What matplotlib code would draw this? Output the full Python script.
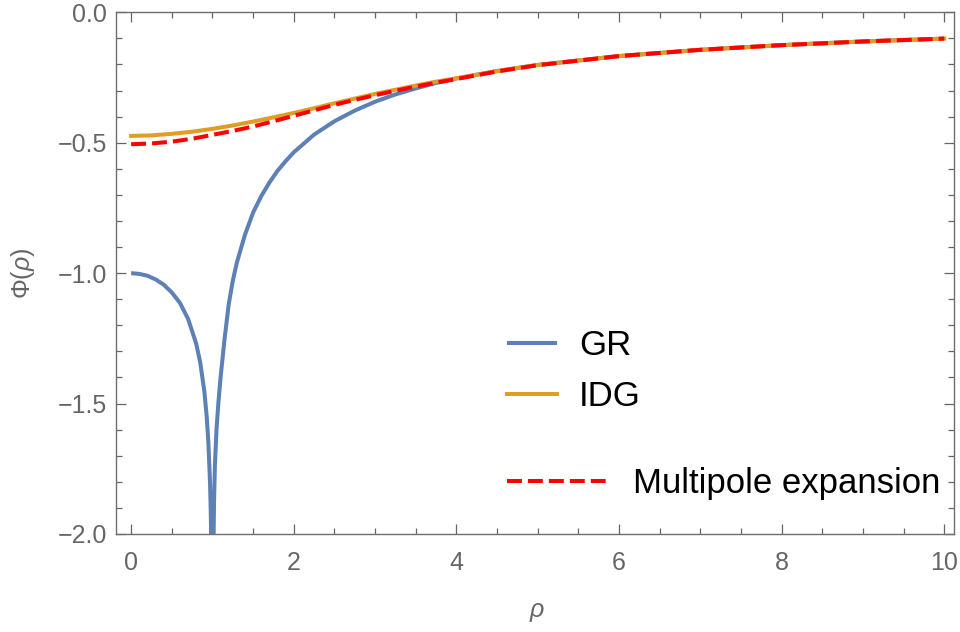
import matplotlib
matplotlib.use('Agg')
import matplotlib.pyplot as plt
from matplotlib.ticker import MultipleLocator, FuncFormatter

plt.rcParams['font.family'] = ['Liberation Sans', 'DejaVu Sans']
plt.rcParams['mathtext.fontset'] = 'custom'
plt.rcParams['mathtext.it'] = 'Liberation Sans:italic'
plt.rcParams['mathtext.rm'] = 'Liberation Sans'

# GR potential of the ring (log spike at rho = 1)
rho_gr = [0, 0.1, 0.2, 0.3, 0.4, 0.5, 0.6, 0.7, 0.8, 0.85, 0.9, 0.93, 0.95, 0.97, 0.98, 0.99,
          1.01, 1.02, 1.03, 1.05, 1.075, 1.1, 1.15, 1.2, 1.25, 1.3, 1.4, 1.5, 1.6, 1.7, 1.8,
          1.9, 2.0, 2.25, 2.5, 2.75, 3.0, 3.25, 3.5, 3.75, 4.0, 4.5, 5.0, 6.0, 7.0, 8.0,
          9.0, 10.0]
phi_gr = [-1.000, -1.003, -1.010, -1.024, -1.044, -1.074, -1.114, -1.175, -1.270, -1.343,
          -1.452, -1.551, -1.649, -1.800, -1.923, -2.137,
          -2.120, -1.870, -1.740, -1.600, -1.490, -1.400, -1.250, -1.120, -1.030, -0.960,
          -0.853, -0.768, -0.705, -0.653, -0.608, -0.571, -0.537, -0.469, -0.418, -0.377,
          -0.343, -0.315, -0.292, -0.271, -0.254, -0.225, -0.202, -0.168, -0.144, -0.126,
          -0.112, -0.101]

# IDG potential and its multipole expansion
rho = [0, 0.25, 0.5, 0.75, 1.0, 1.25, 1.5, 1.75, 2.0, 2.25, 2.5, 2.75, 3.0, 3.25, 3.5,
       3.75, 4.0, 4.5, 5.0, 6.0, 7.0, 8.0, 9.0, 10.0]
phi_idg = [-0.474, -0.472, -0.466, -0.458, -0.447, -0.434, -0.419, -0.403, -0.386, -0.368,
           -0.349, -0.331, -0.313, -0.297, -0.281, -0.266, -0.253, -0.226, -0.202, -0.168,
           -0.144, -0.126, -0.112, -0.101]
phi_multi = [-0.506, -0.503, -0.496, -0.485, -0.470, -0.455, -0.438, -0.418, -0.397, -0.376,
             -0.355, -0.336, -0.318, -0.301, -0.285, -0.270, -0.256, -0.227, -0.203, -0.168,
             -0.144, -0.126, -0.112, -0.101]

grey = '#666666'
fig = plt.figure(figsize=(9.6, 6.32), dpi=100)
ax = fig.add_axes([0.1205, 0.1551, 0.8732, 0.8255])

l_gr, = ax.plot(rho_gr, phi_gr, color='#5E81B5', lw=2.9, solid_capstyle='butt')
l_idg, = ax.plot(rho, phi_idg, color='#E19C24', lw=2.9)
l_mp, = ax.plot(rho, phi_multi, color='#FF0000', lw=2.9, linestyle=(0, (3.7, 1.5)))

ax.set_xlim(-0.19, 10.12)
ax.set_ylim(-2.0, 0.0)

ax.xaxis.set_major_locator(MultipleLocator(2))
ax.xaxis.set_minor_locator(MultipleLocator(0.5))
ax.yaxis.set_major_locator(MultipleLocator(0.5))
ax.yaxis.set_minor_locator(MultipleLocator(0.1))
ax.xaxis.set_major_formatter(FuncFormatter(lambda v, p: '%d' % round(v)))
ax.yaxis.set_major_formatter(FuncFormatter(lambda v, p: ('%.1f' % v).replace('-', '\u2212')))

ax.tick_params(which='both', direction='in', top=True, right=True, color=grey,
               labelcolor=grey, labelsize=18, width=0.9)
ax.tick_params(which='major', length=7.5)
ax.tick_params(which='minor', length=4.3)
ax.tick_params(axis='x', pad=12)
ax.tick_params(axis='y', pad=6)
for s in ax.spines.values():
    s.set_color('#6e6e6e')
    s.set_linewidth(1.0)

fig.text(537 / 960, 1 - 612 / 632, r'$\it{\rho}$', color=grey, fontsize=18,
         ha='center', va='center')
fig.text(23 / 960, 1 - 273 / 632, r'$\mathrm{\Phi}(\it{\rho}$$)$', color=grey, fontsize=18,
         ha='center', va='center', rotation=90)

leg1 = ax.legend([l_gr, l_idg], ['GR', 'IDG'], loc='center left',
                 bbox_to_anchor=(506.7 / 960, 1 - 371 / 632), bbox_transform=fig.transFigure,
                 frameon=False, fontsize=25, handlelength=1.44, handletextpad=0.64,
                 labelspacing=0.5, borderpad=0, borderaxespad=0)
ax.add_artist(leg1)
ax.legend([l_mp], ['Multipole expansion'], loc='center left',
          bbox_to_anchor=(506.7 / 960, 1 - 483.3 / 632), bbox_transform=fig.transFigure,
          frameon=False, fontsize=25, handlelength=2.86, handletextpad=0.77,
          borderpad=0, borderaxespad=0)

fig.savefig('out.png', dpi=100)
